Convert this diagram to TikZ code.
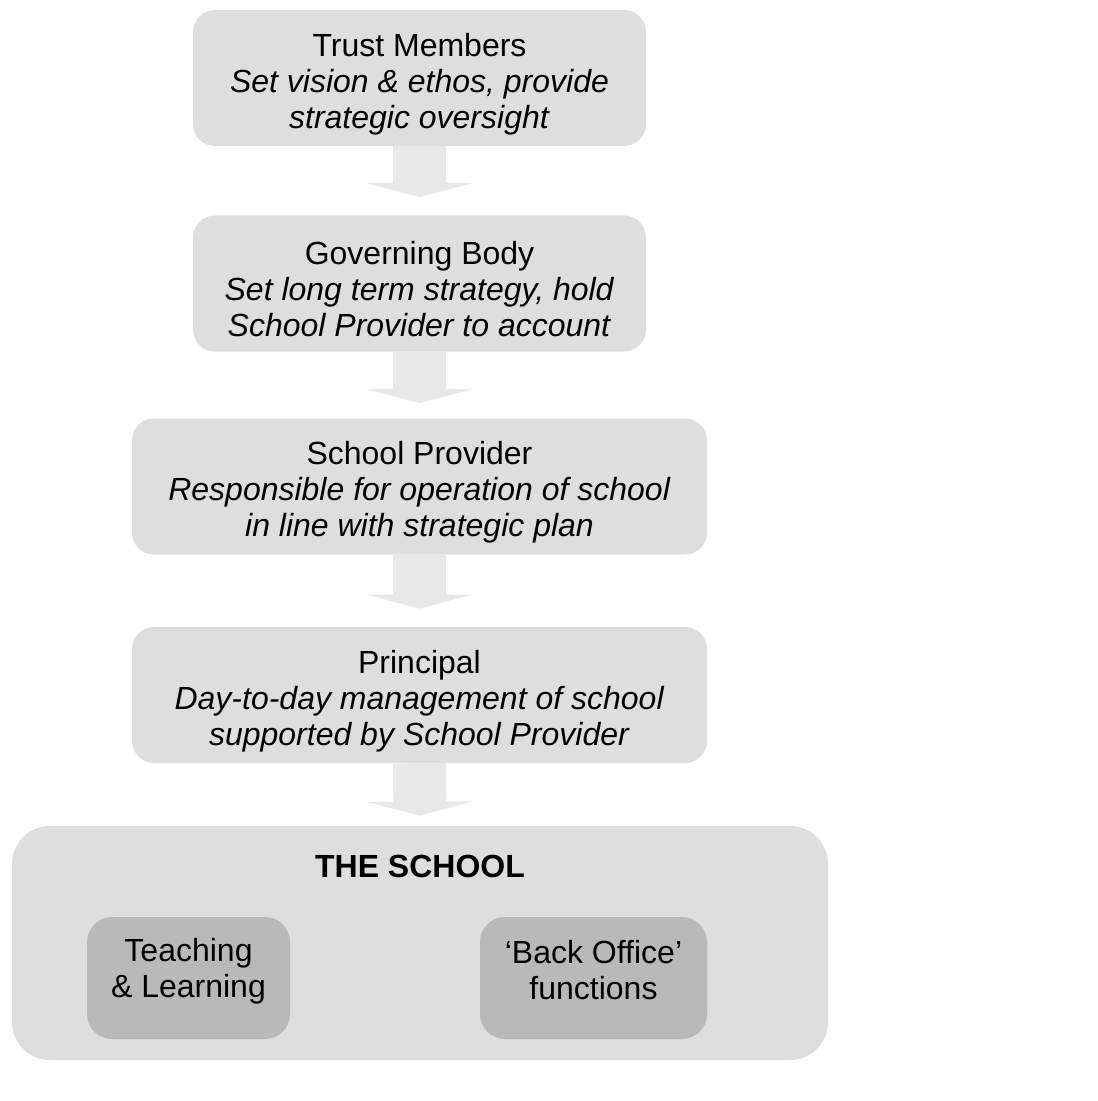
\documentclass[tikz,border=0pt]{standalone}
\usepackage{fontspec}
\setmainfont{Liberation Sans}
\usetikzlibrary{arrows.meta}
\definecolor{boxgrey}{HTML}{DEDEDE}
\definecolor{unitgrey}{HTML}{B9B9B9}
\definecolor{arrowgrey}{HTML}{E8E8E8}
\tikzset{role node/.style={rounded corners=11pt,fill=boxgrey,minimum height=68pt,inner sep=0pt,text height=53.5pt,align=center,font=\fontsize{16}{18}\selectfont},
  unit node/.style={rounded corners=12.5pt,fill=unitgrey,minimum height=61pt,inner sep=0pt},
  unit text/.style={align=center,inner sep=0pt,font=\fontsize{16}{18}\selectfont},
  flow arrow/.style={draw=arrowgrey,line width=26.5pt,-{Triangle[width=53pt,length=7pt]}}}

\begin{document}
\begin{tikzpicture}[x=0.5pt,y=-0.5pt]
            \useasboundingbox (0,0) rectangle (1097,1101);
            % chain of governance
            \node[role node,minimum width=226.5pt] (trust) at (419.5,78)
                {Trust Members\\ \textit{Set vision \& ethos, provide}\\ \textit{strategic oversight}};
            \node[role node,minimum width=226.5pt] (gov) at (419.5,283.5)
                {Governing Body\\ \textit{Set long term strategy, hold}\\ \textit{School Provider to account}};
            \node[role node,minimum width=287.5pt] (provider) at (419.5,486.5)
                {School Provider\\ \textit{Responsible for operation of school}\\ \textit{in line with strategic plan}};
            \node[role node,minimum width=287.5pt] (principal) at (419.5,695)
                {Principal\\ \textit{Day-to-day management of school}\\ \textit{supported by School Provider}};

            % the school and its two parts
            \node[rounded corners=19pt,fill=boxgrey,minimum width=408pt,minimum height=117pt] (school) at (420,943) {};
            \node[font=\fontsize{16}{18}\selectfont\bfseries] (title) at (420,866) {THE SCHOOL};
            \node[unit node,minimum width=101.5pt] (teach) at (188.5,978) {};
            \node[unit node,minimum width=113.5pt] (office) at (593.5,978) {};
            \node[unit text] (teachtext) at (188.5,971) {Teaching\\ \& Learning};
            \node[unit text] (officetext) at (593.5,970) {`Back Office'\\ functions};

            \foreach \from/\to/\gap in {trust/gov/9pt,gov/provider/7.5pt,provider/principal/9pt,principal/school/5pt}{
                \draw[flow arrow,shorten >=\gap] (\from.south) -- (\to.north);
            }
        \end{tikzpicture}
\end{document}
